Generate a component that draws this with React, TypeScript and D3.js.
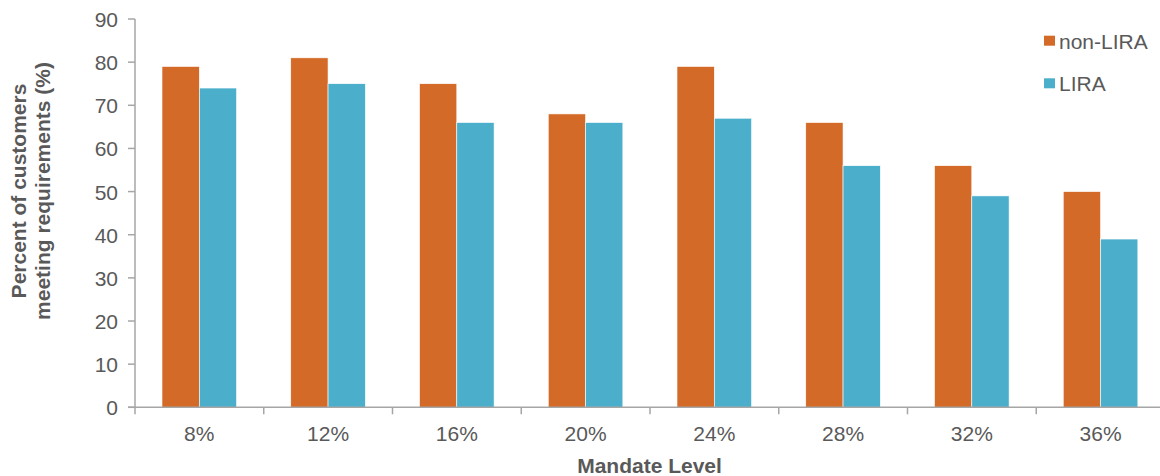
import React from "react";
import * as d3 from "d3";

const categories = ["8%", "12%", "16%", "20%", "24%", "28%", "32%", "36%"];
const nonLira = [79, 81, 75, 68, 79, 66, 56, 50];
const lira = [74, 75, 66, 66, 67, 56, 49, 39];
const seriesNames = ["non-LIRA", "LIRA"];
const seriesColors = ["#D46A27", "#4BAFCB"];
const yTicks = [0, 10, 20, 30, 40, 50, 60, 70, 80, 90];

const W = 1160;
const H = 476;
const x0 = 135;
const bandW = 128.75;
const yBottom = 407.3;
const yTop = 19;
const textColor = "#595959";
const axisColor = "#A6A6A6";
const font = "'Liberation Sans', Arial, sans-serif";
const fs = 21;

export default function App() {
  const x = d3
    .scaleBand<string>()
    .domain(categories)
    .range([x0, x0 + bandW * categories.length])
    .paddingInner(0)
    .paddingOuter(0);
  const y = d3.scaleLinear().domain([0, 90]).range([yBottom, yTop]);
  const barW = 37.3;
  const groupOffset = 27;
  const series = [nonLira, lira];

  return (
    <svg
      width={W}
      height={H}
      style={{ position: "absolute", left: 0, top: 0, background: "#fff" }}
      fontFamily={font}
    >
      {series.map((vals, si) =>
        categories.map((c, i) => {
          const bx = (x(c) as number) + groupOffset + si * barW;
          return (
            <rect
              key={`${si}-${i}`}
              x={bx}
              y={y(vals[i])}
              width={barW}
              height={yBottom - y(vals[i])}
              fill={seriesColors[si]}
              stroke="#fff"
              strokeWidth={0.6}
            />
          );
        })
      )}
      <line x1={x0} x2={x0} y1={yTop} y2={yBottom} stroke={axisColor} strokeWidth={1.5} />
      {yTicks.map((t) => (
        <g key={t}>
          <line x1={x0 - 7} x2={x0} y1={y(t)} y2={y(t)} stroke={axisColor} strokeWidth={1.5} />
          <text
            x={118}
            y={y(t)}
            dy="0.38em"
            textAnchor="end"
            fontSize={fs}
            fill={textColor}
          >
            {t}
          </text>
        </g>
      ))}
      <line x1={x0 - 7} x2={W} y1={yBottom} y2={yBottom} stroke={axisColor} strokeWidth={1.5} />
      {categories.map((c, i) => (
        <line
          key={`t${i}`}
          x1={x(c) as number}
          x2={x(c) as number}
          y1={yBottom}
          y2={yBottom + 7}
          stroke={axisColor}
          strokeWidth={1.5}
        />
      ))}
      {categories.map((c) => (
        <text
          key={c}
          x={(x(c) as number) + groupOffset + barW}
          y={440.5}
          textAnchor="middle"
          fontSize={fs}
          fill={textColor}
        >
          {c}
        </text>
      ))}
      <text
        x={649.5}
        y={473}
        textAnchor="middle"
        fontSize={fs}
        fontWeight="bold"
        fill={textColor}
      >
        Mandate Level
      </text>
      <g transform={`translate(26, 191) rotate(-90)`}>
        <text textAnchor="middle" fontSize={fs} fontWeight="bold" fill={textColor}>
          Percent of customers
        </text>
        <text y={24} textAnchor="middle" fontSize={fs} fontWeight="bold" fill={textColor}>
          meeting requirements (%)
        </text>
      </g>
      {seriesNames.map((n, i) => (
        <g key={n} transform={`translate(1044, ${35.7 + i * 42.6})`}>
          <rect width={11} height={10} fill={seriesColors[i]} />
          <text x={15} y={12.8} fontSize={fs} fill={textColor}>
            {n}
          </text>
        </g>
      ))}
    </svg>
  );
}
